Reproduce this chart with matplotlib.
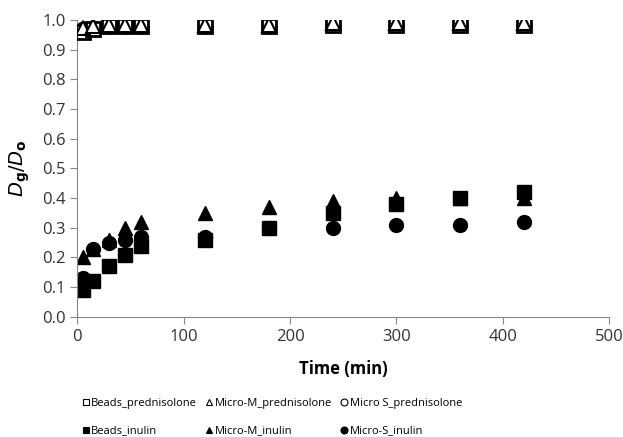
import numpy as np
import matplotlib.pyplot as plt

plt.rcParams['font.family'] = ['Open Sans', 'DejaVu Sans']

time = [5, 15, 30, 45, 60, 120, 180, 240, 300, 360, 420]

beads_pred = [0.96, 0.97, 0.98, 0.98, 0.98, 0.98, 0.98, 0.985, 0.985, 0.985, 0.985]
microM_pred = [0.975, 0.98, 0.985, 0.985, 0.985, 0.985, 0.985, 0.99, 0.99, 0.99, 0.99]
microS_pred = [0.97, 0.975, 0.98, 0.98, 0.98, 0.98, 0.98, 0.985, 0.985, 0.985, 0.985]

beads_inu = [0.09, 0.12, 0.17, 0.21, 0.24, 0.26, 0.30, 0.35, 0.38, 0.40, 0.42]
microM_inu = [0.20, 0.23, 0.26, 0.30, 0.32, 0.35, 0.37, 0.39, 0.40, 0.40, 0.40]
microS_inu = [0.13, 0.23, 0.25, 0.26, 0.27, 0.27, 0.30, 0.30, 0.31, 0.31, 0.32]

fig = plt.figure(figsize=(6.23, 4.37), dpi=100)
ax = fig.add_axes([0.124, 0.275, 0.854, 0.679])

ms = 10
ax.plot(time, beads_pred, 's', mfc='white', mec='black', mew=2, ms=ms, zorder=3, label='Beads_prednisolone')
ax.plot(time, microM_pred, '^', mfc='white', mec='black', mew=1.5, ms=ms, zorder=4, label='Micro-M_prednisolone')
ax.plot(time, microS_pred, 'o', mfc='white', mec='black', mew=1.5, ms=ms, zorder=2, label='Micro S_prednisolone')
ax.plot(time, beads_inu, 's', color='black', ms=ms, label='Beads_inulin')
ax.plot(time, microM_inu, '^', color='black', ms=ms, label='Micro-M_inulin')
ax.plot(time, microS_inu, 'o', color='black', ms=ms, label='Micro-S_inulin')

ax.set_xlim(0, 500)
ax.set_ylim(0, 1.0)
ax.set_xticks(np.arange(0, 501, 100))
ax.set_yticks(np.arange(0, 1.01, 0.1))
ax.set_yticklabels(['%.1f' % v for v in np.arange(0, 1.01, 0.1)])
ax.tick_params(labelsize=12, colors='#333333', length=5, color='#888888')
for s in ['top', 'right']:
    ax.spines[s].set_visible(False)
for s in ['left', 'bottom']:
    ax.spines[s].set_color('#888888')

ax.set_xlabel('Time (min)', fontsize=12, fontweight='bold')
ax.xaxis.set_label_coords(0.5, -0.145)
ax.set_ylabel(r'$D_\mathbf{g}/D_\mathbf{o}$', fontsize=14, fontweight='bold')
ax.yaxis.set_label_coords(-0.085, 0.5)

# legend, row-major 2x3
handles, labels = ax.get_legend_handles_labels()
order = [0, 3, 1, 4, 2, 5]
leg = fig.legend([handles[i] for i in order], [labels[i] for i in order],
                 loc='center left', bbox_to_anchor=(0.116, 0.045), ncol=3, frameon=False,
                 fontsize=8, markerscale=0.5, handlelength=0.6, handletextpad=0.2,
                 columnspacing=0.8, labelspacing=1.45)
for h in leg.legend_handles:
    h.set_markeredgewidth(0.8)

fig.savefig('out.png', dpi=100)
